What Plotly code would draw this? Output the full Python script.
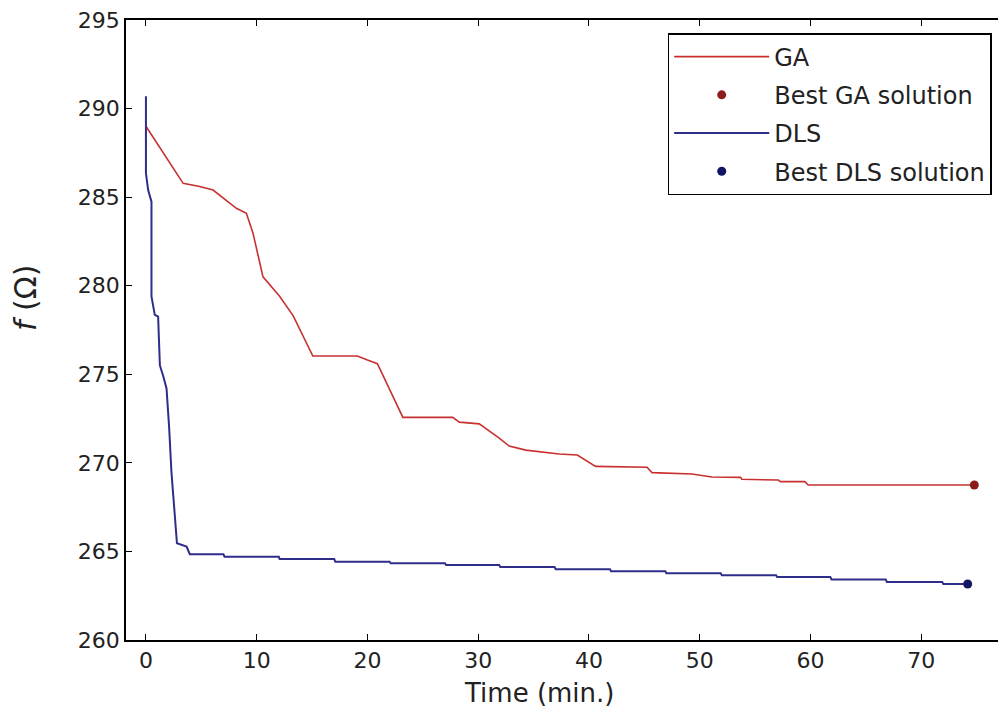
import plotly.graph_objects as go

# GA convergence curve (time in min, objective f in ohm)
ga_time = [0, 3.36, 4.86, 6.06, 8.17, 9.07, 9.67, 10.57, 12.07, 13.3, 15.07, 19.1, 20.0, 20.9,
           23.2, 27.7, 28.3, 30.1, 31.9, 32.8, 34.3, 37.3, 38.95, 40.6, 45.25, 45.7, 49.3,
           51.1, 53.7, 53.8, 57.1, 57.3, 59.5, 59.8, 74.8]
ga_f = [289.0, 285.78, 285.6, 285.4, 284.37, 284.09, 282.96, 280.5, 279.4, 278.3, 276.03, 276.03, 275.8,
        275.6, 272.57, 272.57, 272.3, 272.2, 271.4, 270.95, 270.72, 270.5, 270.44, 269.8, 269.75,
        269.45, 269.37, 269.2, 269.18, 269.07, 269.03, 268.94, 268.94, 268.75, 268.75]

# DLS convergence curve
dls_time = [0, 0, 0.2, 0.5, 0.5, 0.8, 1.1, 1.26, 1.56, 1.86, 2.1, 2.3, 2.5, 2.7, 2.8, 3.67, 3.96,
            7.0, 7.1, 12.0, 12.07, 17.0, 17.1, 22.0, 22.1, 27.0, 27.1, 31.9, 32.0, 36.9, 37.0,
            41.9, 42.0, 46.9, 47.0, 51.9, 52.0, 56.9, 57.0, 61.8, 61.9, 66.8, 66.9, 71.9, 72.0, 74.2]
dls_f = [290.7, 286.35, 285.4, 284.74, 279.4, 278.35, 278.25, 275.5, 274.9, 274.2, 271.95, 269.5,
         267.9, 266.3, 265.46, 265.27, 264.84, 264.84, 264.7, 264.7, 264.57, 264.57, 264.42,
         264.42, 264.33, 264.33, 264.23, 264.23, 264.12, 264.12, 264.0, 264.0, 263.88, 263.88,
         263.77, 263.77, 263.66, 263.66, 263.55, 263.55, 263.42, 263.42, 263.28, 263.28, 263.16, 263.16]

best_ga = (74.8, 268.75)
best_dls = (74.2, 263.16)

x_ticks = [0, 10, 20, 30, 40, 50, 60, 70]
y_ticks = [260, 265, 270, 275, 280, 285, 290, 295]

FONT = "DejaVu Sans"

fig = go.Figure()
fig.add_trace(go.Scatter(x=ga_time, y=ga_f, mode="lines", name="GA",
                         line=dict(color="#c83030", width=1.6), legendgroup="a"))
fig.add_trace(go.Scatter(x=[best_ga[0]], y=[best_ga[1]], mode="markers", name="Best GA solution",
                         marker=dict(color="#8c1c1c", size=9), legendgroup="b"))
fig.add_trace(go.Scatter(x=dls_time, y=dls_f, mode="lines", name="DLS",
                         line=dict(color="#2e2e8a", width=2), legendgroup="c"))
fig.add_trace(go.Scatter(x=[best_dls[0]], y=[best_dls[1]], mode="markers", name="Best DLS solution",
                         marker=dict(color="#141464", size=9), legendgroup="d"))

fig.update_layout(
    width=998, height=707,
    margin=dict(l=118, r=0, t=12, b=75),
    paper_bgcolor="white", plot_bgcolor="white",
    font=dict(family=FONT, size=22, color="#222"),
    showlegend=True,
    legend=dict(x=0.617, y=0.979, xanchor="left", yanchor="top",
                bordercolor="black", borderwidth=1.5, bgcolor="white",
                font=dict(size=24, family=FONT), tracegroupgap=4, itemwidth=95,
                traceorder="grouped"),
    xaxis=dict(range=[-1.8, 77.48], tickvals=x_ticks, ticks="inside", ticklen=6,
               showgrid=False, zeroline=False, showline=True, linecolor="black",
               linewidth=1.5, mirror="ticks", tickcolor="black"),
    yaxis=dict(range=[260, 295], tickvals=y_ticks, ticks="inside", ticklen=6,
               showgrid=False, zeroline=False, showline=True, linecolor="black",
               linewidth=1.5, mirror="ticks", tickcolor="black",
               ticklabeloverflow="allow"),
)

fig.add_annotation(text="Time (min.)", xref="paper", yref="paper", x=0.47, y=-0.0855,
                   yanchor="middle", xanchor="center", showarrow=False,
                   font=dict(size=26, family=FONT))
fig.add_annotation(text="<i>f</i> (Ω)", xref="paper", yref="paper", x=-0.1136, y=0.552,
                   xanchor="center", yanchor="middle",
                   showarrow=False, textangle=-90, font=dict(size=30, family=FONT))

fig.write_html("out.html")
